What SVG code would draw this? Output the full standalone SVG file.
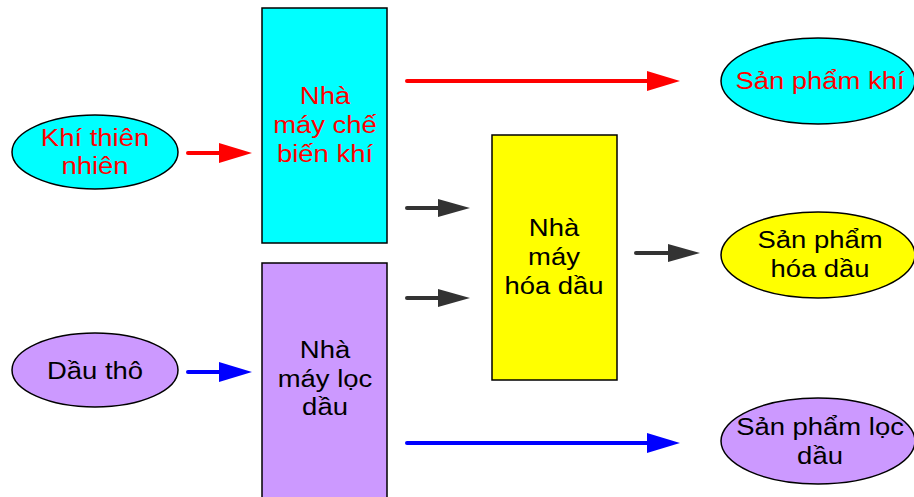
<svg xmlns="http://www.w3.org/2000/svg" width="914" height="497" viewBox="0 0 914 497">
  <style>
    .shape { stroke: #000; stroke-width: 1.5; }
    .cyan { fill: #00FFFF; }
    .violet { fill: #CC99FF; }
    .yellow { fill: #FFFF00; }
    .lbl { font-family: "Liberation Sans", Arial, sans-serif; font-size: 24.5px; text-anchor: middle; }
    .red { fill: #FF0000; }
    .black { fill: #000; }
    .line { stroke-width: 4; stroke-linecap: round; fill: none; }
  </style>
  <defs>
    <marker id="headRed" markerUnits="userSpaceOnUse" markerWidth="34" markerHeight="22" refX="0" refY="10" orient="auto">
      <path d="M0,0 L33,10 L0,20 Z" fill="#FF0000"/>
    </marker>
    <marker id="headBlue" markerUnits="userSpaceOnUse" markerWidth="34" markerHeight="22" refX="0" refY="10" orient="auto">
      <path d="M0,0 L33,10 L0,20 Z" fill="#0000FF"/>
    </marker>
    <marker id="headDark" markerUnits="userSpaceOnUse" markerWidth="34" markerHeight="22" refX="0" refY="10" orient="auto">
      <path d="M0,1 L32,10 L0,19 Z" fill="#333333"/>
    </marker>
  </defs>

  <!-- connectors -->
  <g id="connectors">
    <path class="line" stroke="#FF0000" d="M188,153 H219" marker-end="url(#headRed)"/>
    <path class="line" stroke="#FF0000" d="M407,81 H647" marker-end="url(#headRed)"/>
    <path class="line" stroke="#333333" d="M407,208 H438" marker-end="url(#headDark)"/>
    <path class="line" stroke="#333333" d="M407,298 H438" marker-end="url(#headDark)"/>
    <path class="line" stroke="#333333" d="M636,253 H668" marker-end="url(#headDark)"/>
    <path class="line" stroke="#0000FF" d="M188,372 H219" marker-end="url(#headBlue)"/>
    <path class="line" stroke="#0000FF" d="M407,443 H647" marker-end="url(#headBlue)"/>
  </g>

  <!-- sources -->
  <g id="khi-thien-nhien">
    <ellipse class="shape cyan" cx="95" cy="152" rx="83" ry="37"/>
    <g transform="translate(95,0) scale(1.12,1)">
      <text class="lbl red" x="0" y="146">Khí thiên</text>
      <text class="lbl red" x="0" y="174">nhiên</text>
    </g>
  </g>
  <g id="dau-tho">
    <ellipse class="shape violet" cx="95" cy="370" rx="83" ry="37"/>
    <g transform="translate(95,0) scale(1.12,1)">
      <text class="lbl black" x="0" y="379">Dầu thô</text>
    </g>
  </g>

  <!-- plants -->
  <g id="nha-may-che-bien-khi">
    <rect class="shape cyan" x="262" y="8" width="125" height="235"/>
    <g transform="translate(325,0) scale(1.12,1)">
      <text class="lbl red" x="0" y="104">Nhà</text>
      <text class="lbl red" x="0" y="133">máy chế</text>
      <text class="lbl red" x="0" y="162">biến khí</text>
    </g>
  </g>
  <g id="nha-may-loc-dau">
    <rect class="shape violet" x="262" y="263" width="125" height="240"/>
    <g transform="translate(325,0) scale(1.12,1)">
      <text class="lbl black" x="0" y="358">Nhà</text>
      <text class="lbl black" x="0" y="387">máy lọc</text>
      <text class="lbl black" x="0" y="415">dầu</text>
    </g>
  </g>
  <g id="nha-may-hoa-dau">
    <rect class="shape yellow" x="492" y="135" width="125" height="245"/>
    <g transform="translate(554,0) scale(1.12,1)">
      <text class="lbl black" x="0" y="236">Nhà</text>
      <text class="lbl black" x="0" y="265">máy</text>
      <text class="lbl black" x="0" y="294">hóa dầu</text>
    </g>
  </g>

  <!-- products -->
  <g id="san-pham-khi">
    <ellipse class="shape cyan" cx="818" cy="81" rx="97" ry="43"/>
    <g transform="translate(820,0) scale(1.12,1)">
      <text class="lbl red" x="0" y="89">Sản phẩm khí</text>
    </g>
  </g>
  <g id="san-pham-hoa-dau">
    <ellipse class="shape yellow" cx="818" cy="255" rx="97" ry="43"/>
    <g transform="translate(820,0) scale(1.12,1)">
      <text class="lbl black" x="0" y="248">Sản phẩm</text>
      <text class="lbl black" x="0" y="277">hóa dầu</text>
    </g>
  </g>
  <g id="san-pham-loc-dau">
    <ellipse class="shape violet" cx="818" cy="441" rx="97" ry="43"/>
    <g transform="translate(820,0) scale(1.12,1)">
      <text class="lbl black" x="0" y="435">Sản phẩm lọc</text>
      <text class="lbl black" x="0" y="464">dầu</text>
    </g>
  </g>
</svg>
